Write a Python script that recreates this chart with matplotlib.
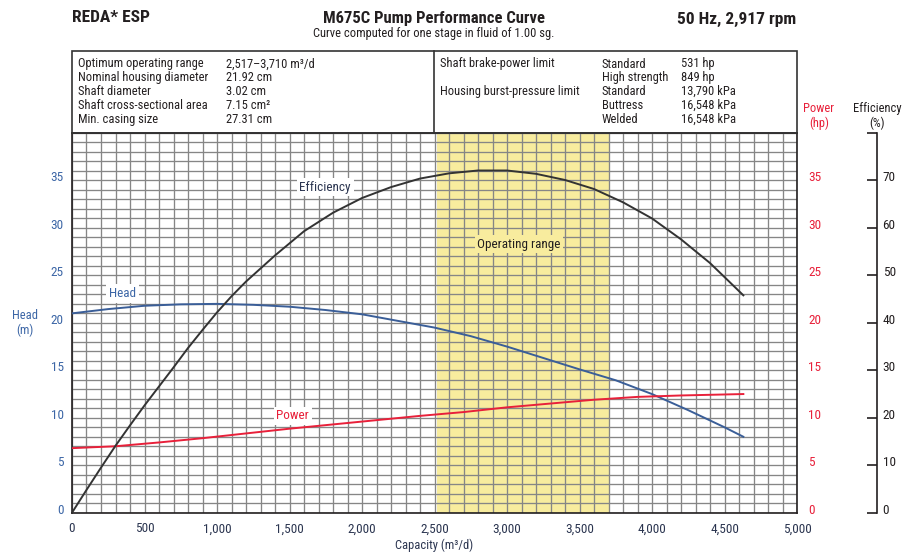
import matplotlib
matplotlib.use("Agg")
import matplotlib.pyplot as plt
import numpy as np
from matplotlib import font_manager
from matplotlib.patches import Rectangle
from matplotlib.lines import Line2D
from matplotlib.transforms import ScaledTranslation

# --- data ------------------------------------------------------------------
head_q = [0, 250, 500, 750, 1000, 1250, 1500, 1750, 2000, 2250, 2500, 2750, 3000,
          3250, 3500, 3750, 4000, 4250, 4500, 4630]
head_m = [21.0, 21.45, 21.8, 21.95, 22.0, 21.9, 21.7, 21.35, 20.9, 20.2, 19.5, 18.6, 17.5,
          16.3, 15.1, 13.95, 12.5, 10.8, 9.0, 8.0]

eff_q = [0, 100, 200, 300, 400, 500, 600, 700, 800, 900, 1000, 1100, 1200, 1400, 1600,
         1800, 2000, 2200, 2400, 2600, 2800, 3000, 3200, 3400, 3600, 3800, 4000, 4200,
         4400, 4630]
eff_pct = [0, 4.8, 9.5, 14.1, 18.4, 22.6, 26.6, 30.6, 34.7, 38.5, 42.2, 45.6, 48.7, 54.2,
           59.3, 63.2, 66.3, 68.6, 70.4, 71.5, 72.1, 72.1, 71.4, 70.1, 68.2, 65.4, 62.0,
           57.6, 52.6, 45.8]

power_q = [0, 300, 600, 900, 1200, 1500, 1800, 2100, 2400, 2700, 3000, 3300, 3600, 3900,
           4200, 4630]
power_hp = [6.8, 7.0, 7.4, 7.85, 8.35, 8.85, 9.3, 9.75, 10.2, 10.6, 11.1, 11.5, 11.9, 12.2,
            12.35, 12.5]

op_range = [2517, 3710]

x_ticks = [0, 500, 1000, 1500, 2000, 2500, 3000, 3500, 4000, 4500, 5000]
head_ticks = [0, 5, 10, 15, 20, 25, 30, 35]
eff_ticks = [0, 10, 20, 30, 40, 50, 60, 70]

specs_left = ["Optimum operating range", "Nominal housing diameter", "Shaft diameter",
              "Shaft cross-sectional area", "Min. casing size"]
specs_left_val = ["2,517\u20133,710 m\u00b3/d", "21.92 cm", "3.02 cm", "7.15 cm\u00b2", "27.31 cm"]
specs_right_grade = ["Standard", "High strength", "Standard", "Buttress", "Welded"]
specs_right_val = ["531 hp", "849 hp", "13,790 kPa", "16,548 kPa", "16,548 kPa"]

# --- style ------------------------------------------------------------------
fonts = font_manager.fontManager.ttflist
bold_ok = {f.name for f in fonts if (f.weight if isinstance(f.weight, int) else 400) >= 600}
FONT = "DejaVu Sans"
for cand in ["Roboto Condensed", "Archivo Narrow", "Barlow Semi Condensed", "Asap Condensed"]:
    if cand in bold_ok:
        FONT = cand
        break
plt.rcParams["font.family"] = [FONT, "DejaVu Sans"]

BLUE = "#3A5E98"
BLUE_TXT = "#3C66A6"
RED = "#E8203A"
DARK = "#231F20"
NAVY = "#2B3550"
GRID = "#868686"
YELLOW = "#F8EC9E"

W, H = 904, 553


def px(x, y):
    return x / W, 1 - y / H


fig = plt.figure(figsize=(W / 100, H / 100), dpi=100)
ax = fig.add_axes([72 / W, 1 - 512.7 / H, 725 / W, (512.7 - 133) / H])

# grid + operating range
ax.set_xlim(0, 5000)
ax.set_ylim(0, 40)
ax.set_xticks(x_ticks)
ax.set_xticks(np.arange(0, 5001, 100), minor=True)
ax.set_yticks(head_ticks)
ax.set_yticks(np.arange(0, 41, 1), minor=True)
ax.set_axisbelow(True)
ax.grid(which="both", color=GRID, lw=0.95)
ax.axvspan(op_range[0], op_range[1], color=YELLOW, zorder=0.2, lw=0)
ax.set_xticklabels([f"{v:,}" for v in x_ticks], color=NAVY, fontsize=9.5)
ax.set_yticklabels([str(v) for v in head_ticks], color=BLUE_TXT, fontsize=9.5)
ax.tick_params(which="both", length=0)
ax.tick_params(axis="x", pad=7)
ax.tick_params(axis="y", pad=6)
for s in ax.spines.values():
    s.set_color(DARK)
    s.set_linewidth(1.2)

ax.plot(head_q, head_m, color=BLUE, lw=1.4, zorder=3)

# power axis (same scale as head)
ax_p = ax.twinx()
ax_p.set_ylim(0, 40)
ax_p.set_yticks(head_ticks)
ax_p.set_yticklabels([str(v) for v in head_ticks], color=RED, fontsize=9.5)
ax_p.tick_params(length=0, pad=8)
for s in ax_p.spines.values():
    s.set_visible(False)
ax_p.plot(power_q, power_hp, color=RED, lw=1.4, zorder=3)

# efficiency axis, detached to the right
ax_e = ax.twinx()
ax_e.set_ylim(0, 80)
ax_e.spines["right"].set_position(("axes", (877 - 72) / 725))
for k in ("left", "top", "bottom"):
    ax_e.spines[k].set_visible(False)
ax_e.spines["right"].set_color(DARK)
ax_e.spines["right"].set_linewidth(1.2)
ax_e.set_yticks(eff_ticks)
ax_e.set_yticks([80], minor=True)
ax_e.set_yticklabels([str(v) for v in eff_ticks], color=DARK, fontsize=9.5)
ax_e.tick_params(which="both", direction="in", length=7, width=1.2, color=DARK, pad=4)
ax_e.plot(eff_q, eff_pct, color="#333333", lw=1.4, zorder=3)

# the printed tick labels sit a few pixels above their grid lines
shift = ScaledTranslation(0, 4 / 100, fig.dpi_scale_trans)
for a in (ax, ax_p, ax_e):
    for lbl in a.get_yticklabels():
        lbl.set_transform(lbl.get_transform() + shift)

# curve labels
white = dict(facecolor="white", edgecolor="none", pad=2)
ax.text(1745, 34.3, "Efficiency", color=NAVY, fontsize=9.5, ha="center", va="center",
        bbox=white, zorder=2)
ax.text(350, 23.1, "Head", color=BLUE_TXT, fontsize=9.5, ha="center", va="center",
        bbox=white, zorder=2)
ax.text(1522, 10.2, "Power", color=RED, fontsize=9.5, ha="center", va="center",
        bbox=white, zorder=2)
ax.text(3083, 28.3, "Operating range", color=DARK, fontsize=9.5, ha="center", va="center",
        bbox=dict(facecolor=YELLOW, edgecolor="none", pad=2), zorder=2)

# axis titles
fig.text(*px(25, 323), "Head\n(m)", color=BLUE_TXT, fontsize=9, ha="center", va="center",
         linespacing=1.1)
fig.text(*px(819, 116), "Power\n(hp)", color=RED, fontsize=9, ha="center", va="center",
         linespacing=1.1)
fig.text(*px(877, 116), "Efficiency\n(%)", color=DARK, fontsize=9, ha="center", va="center",
         linespacing=1.1)
fig.text(*px(434, 545), "Capacity (m\u00b3/d)", color=NAVY, fontsize=9, ha="center",
         va="center")

# header
fig.text(*px(72, 18), "REDA* ESP", color=DARK, fontsize=12.5, fontweight="bold", va="center")
fig.text(*px(434, 18), "M675C Pump Performance Curve", color=DARK, fontsize=12,
         fontweight="bold", ha="center", va="center")
fig.text(*px(434, 34), "Curve computed for one stage in fluid of 1.00 sg.", color=DARK,
         fontsize=9, ha="center", va="center")
fig.text(*px(796, 19), "50 Hz, 2,917 rpm", color=DARK, fontsize=12.5, fontweight="bold",
         ha="right", va="center")

# spec table
fig.add_artist(Rectangle(px(72, 133), 725.5 / W, 82 / H, transform=fig.transFigure,
                         fill=False, ec="#333333", lw=1.2))
fig.add_artist(Line2D([434 / W, 434 / W], [1 - 51 / H, 1 - 133 / H],
                      transform=fig.transFigure, color="#333333", lw=1.2))
rows_y = [64, 77.5, 91.5, 105.5, 119.5]
for y, lab, val in zip(rows_y, specs_left, specs_left_val):
    fig.text(*px(78, y), lab, color=DARK, fontsize=9, va="center")
    fig.text(*px(226, y), val, color=DARK, fontsize=9, va="center")
fig.text(*px(440, rows_y[0]), "Shaft brake-power limit", color=DARK, fontsize=9, va="center")
fig.text(*px(440, rows_y[2]), "Housing burst-pressure limit", color=DARK, fontsize=9,
         va="center")
for y, g, val in zip(rows_y, specs_right_grade, specs_right_val):
    fig.text(*px(602, y), g, color=DARK, fontsize=9, va="center")
    fig.text(*px(681, y), val, color=DARK, fontsize=9, va="center")

fig.savefig("out.png", dpi=100)
